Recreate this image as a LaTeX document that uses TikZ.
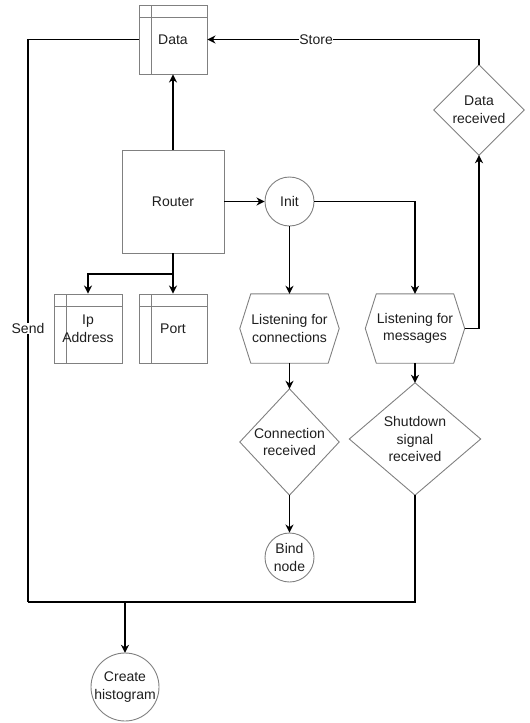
\documentclass[tikz,border=0pt]{standalone}
\usepackage{fontspec}
\setmainfont{Liberation Sans}
\usetikzlibrary{arrows.meta}

\definecolor{edgegray}{RGB}{128,128,128}
\definecolor{inkgray}{RGB}{30,30,30}

\tikzset{
  lbl/.style={font=\fontsize{14}{17.5}\selectfont, text=inkgray, align=center, inner sep=0pt},
  box/.style={lbl, rectangle, draw=edgegray, line width=0.9pt},
  storebox/.style={box, minimum width=68pt, minimum height=69pt,
    path picture={\draw[edgegray, line width=0.9pt]
      ([xshift=12pt]path picture bounding box.north west) -- ([xshift=12pt]path picture bounding box.south west)
      ([yshift=-12pt]path picture bounding box.north west) -- ([yshift=-12pt]path picture bounding box.north east);}},
  outlinebox/.style={lbl, rectangle, draw=none},
  shapeline/.style={draw=edgegray, line width=0.9pt},
  link/.style={draw=black, line width=1.7pt},
  arrow/.style={link, -{Stealth[length=8pt, width=8pt, inset=2.5pt]}},
  tag/.style={lbl, fill=white, inner sep=0.5pt},
}

% outline helpers for shapes drawn around plain text nodes
\newcommand{\hexoutline}[1]{%
  \draw[shapeline] ([xshift=11pt]#1.north west) -- ([xshift=-11pt]#1.north east) -- (#1.east)
    -- ([xshift=-11pt]#1.south east) -- ([xshift=11pt]#1.south west) -- (#1.west) -- cycle;}
\newcommand{\diamondoutline}[1]{%
  \draw[shapeline] (#1.north) -- (#1.east) -- (#1.south) -- (#1.west) -- cycle;}

\begin{document}
\begin{tikzpicture}[x=1pt, y=-1pt]
\useasboundingbox (0,0) rectangle (530,723);

% storage boxes
\node[storebox] (data) at (173,39.5) {Data};
\node[storebox] (ip) at (88,328.5) {Ip\\Address};
\node[storebox] (port) at (173,328.5) {Port};

% router and init
\node[box, minimum width=102pt, minimum height=103pt] (router) at (173,201.5) {Router};
\node[box, circle, minimum size=49pt] (init) at (289.5,201.5) {Init};

% listening states
\node[outlinebox, minimum width=99pt, minimum height=69pt] (lc) at (289.5,328.5) {Listening for\\connections};
\hexoutline{lc}
\node[outlinebox, minimum width=99pt, minimum height=69pt] (lm) at (415,328.5) {Listening for\\messages};
\hexoutline{lm}

% decisions
\node[outlinebox, minimum width=90pt, minimum height=90pt] (dr) at (479,110) {Data\\received};
\diamondoutline{dr}
\node[outlinebox, minimum width=99pt, minimum height=106pt] (cr) at (289.5,442) {Connection\\received};
\diamondoutline{cr}
\node[outlinebox, minimum width=131pt, minimum height=112pt] (sd) at (415,439) {Shutdown\\signal\\received};
\diamondoutline{sd}

% terminals
\node[box, circle, minimum size=49pt] (bind) at (289.5,557.5) {Bind\\node};
\node[outlinebox, minimum size=68pt] (ch) at (125,687) {Create\\histogram};
\draw[shapeline] (ch.center) circle[radius=34pt];

% connectors
\coordinate (fork) at (173,274);
\coordinate (sendcorner) at (28,602);
\coordinate (join) at (125,602);

\draw[arrow] (router.north) -- (data.south);
\draw[arrow] (router.east) -- (init.west);
\draw[arrow] (init.east) -| (lm.north);
\draw[arrow] (init.south) -- (lc.north);
\draw[arrow] (router.south) -- (fork) -| (ip.north);
\draw[arrow] (fork) -- (port.north);
\draw[arrow] (lc.south) -- (cr.north);
\draw[arrow] (cr.south) -- (bind.north);
\draw[arrow] (lm.south) -- (sd.north);
\draw[arrow] (lm.east) -| (dr.south);
\draw[arrow] (dr.north) |- (data.east) node[tag, pos=0.8] {Store};
\draw[link] (data.west) -| (sendcorner) node[tag, pos=0.757] {Send};
\draw[link] (sd.south) |- (sendcorner);
\draw[arrow] (join) -- (ch.north);
\end{tikzpicture}
\end{document}
